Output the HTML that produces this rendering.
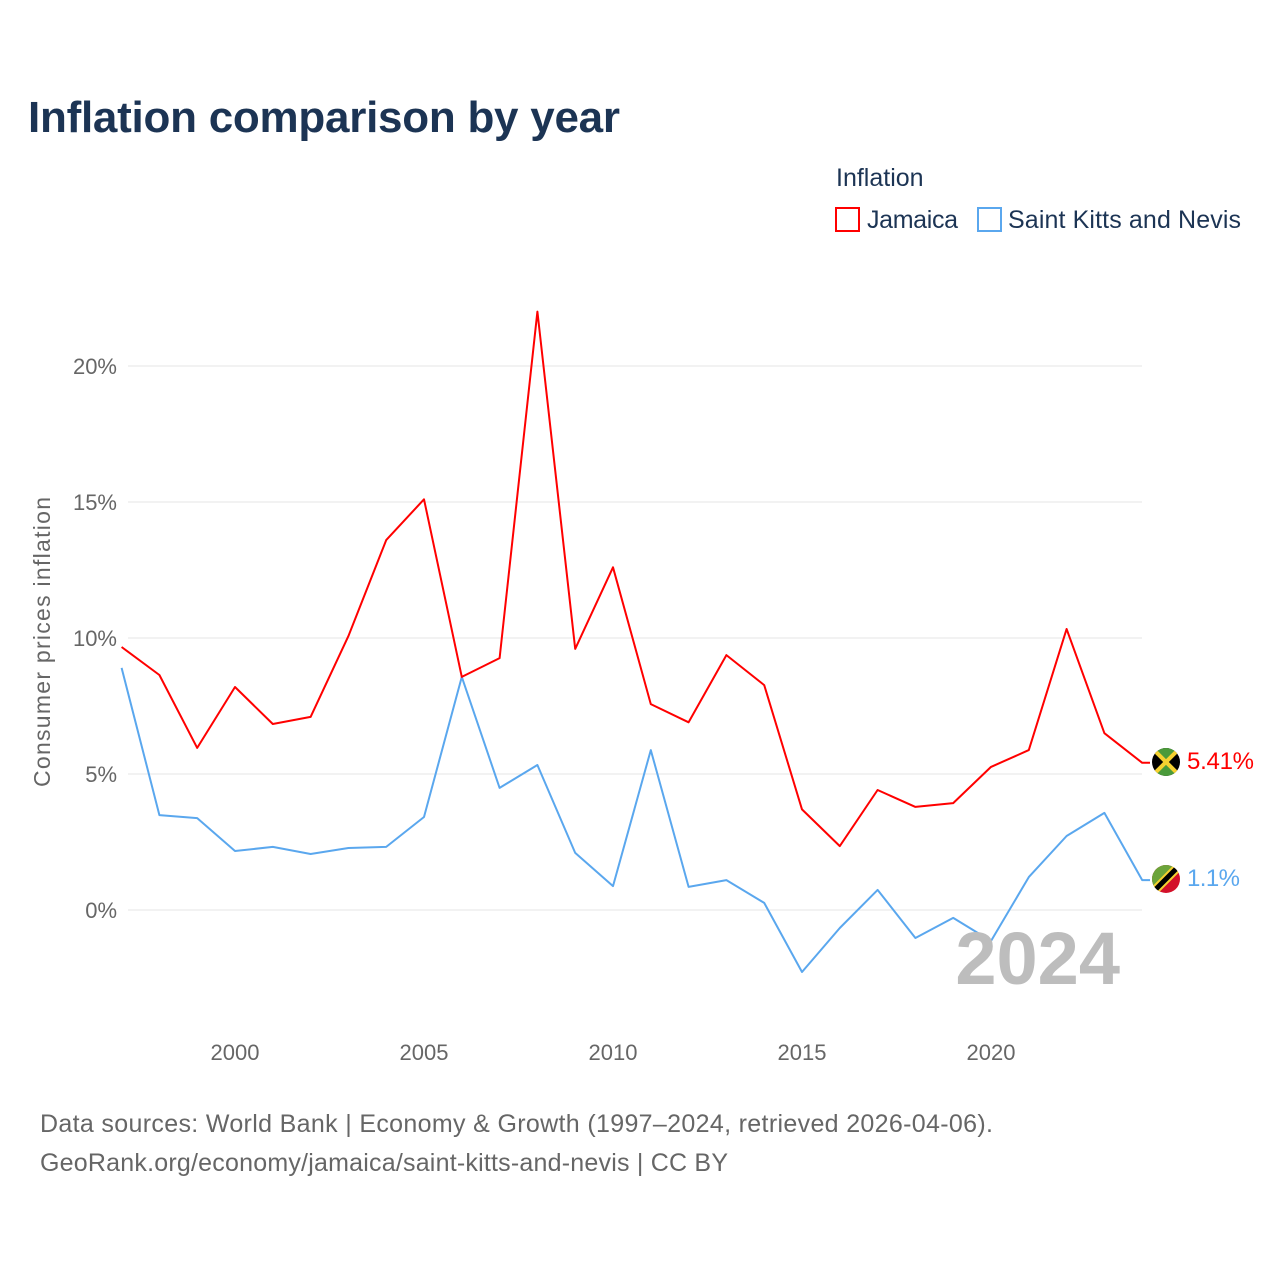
<!DOCTYPE html>
<html><head><meta charset="utf-8"><style>
body{margin:0;background:#fff;font-family:"Liberation Sans",sans-serif;}
svg text{font-family:"Liberation Sans",sans-serif;}
</style></head><body>
<svg id="c" width="1280" height="1280" viewBox="0 0 1280 1280">
<defs>
<clipPath id="cj"><circle cx="1166" cy="762" r="14"/></clipPath>
<clipPath id="ck"><circle cx="1166" cy="879" r="14"/></clipPath>
</defs>
<text x="28" y="132" font-size="44" font-weight="bold" fill="#1c3454" textLength="592">Inflation comparison by year</text>
<text x="836" y="186" font-size="25" fill="#1c3454">Inflation</text>
<g><rect x="836" y="208" width="23" height="23" fill="none" stroke="#f00" stroke-width="2"/><text x="867" y="228" font-size="25" fill="#1c3454" textLength="91">Jamaica</text></g>
<g><rect x="978" y="208" width="23" height="23" fill="none" stroke="#5aa7ee" stroke-width="2"/><text x="1008" y="228" font-size="25" fill="#1c3454" textLength="233">Saint Kitts and Nevis</text></g>
<text transform="translate(50,642) rotate(-90)" text-anchor="middle" font-size="23" fill="#666" textLength="290">Consumer prices inflation</text>
<g id="grid"></g><g id="marks"></g>
<text x="1120" y="984" text-anchor="end" font-size="74" font-weight="bold" fill="#bdbdbd">2024</text>
<g clip-path="url(#cj)">
<rect x="1150" y="746" width="32" height="32" fill="#000"/>
<polygon points="1150,746 1182,746 1166,762" fill="#4a9a3a"/><polygon points="1150,778 1182,778 1166,762" fill="#4a9a3a"/>
<line x1="1150" y1="746" x2="1182" y2="778" stroke="#f5d130" stroke-width="4"/><line x1="1182" y1="746" x2="1150" y2="778" stroke="#f5d130" stroke-width="4"/>
</g>
<g clip-path="url(#ck)">
<rect x="1150" y="863" width="32" height="32" fill="#d3102a"/>
<polygon points="1150,863 1182,863 1150,895" fill="#6ba43a"/>
<line x1="1180" y1="865" x2="1152" y2="893" stroke="#f5d130" stroke-width="9"/>
<line x1="1180" y1="865" x2="1152" y2="893" stroke="#000" stroke-width="5"/>
</g>
<text x="1187" y="769" font-size="24" fill="#f00" textLength="67">5.41%</text>
<text x="1187" y="886" font-size="24" fill="#5aa7ee" textLength="53">1.1%</text>
<text x="40" y="1132" font-size="25" fill="#666" textLength="953">Data sources: World Bank | Economy &amp; Growth (1997–2024, retrieved 2026-04-06).</text>
<text x="40" y="1171" font-size="25" fill="#666" textLength="688">GeoRank.org/economy/jamaica/saint-kitts-and-nevis | CC BY</text>
</svg>
<script>
const years=[1997,1998,1999,2000,2001,2002,2003,2004,2005,2006,2007,2008,2009,2010,2011,2012,2013,2014,2015,2016,2017,2018,2019,2020,2021,2022,2023,2024];
const jamaica=[9.67,8.64,5.96,8.2,6.84,7.1,10.07,13.6,15.1,8.57,9.26,22.0,9.6,12.6,7.57,6.9,9.37,8.27,3.7,2.35,4.41,3.79,3.93,5.26,5.88,10.33,6.5,5.41];
const skn=[8.9,3.49,3.38,2.17,2.32,2.06,2.28,2.32,3.42,8.57,4.49,5.33,2.1,0.88,5.88,0.85,1.1,0.26,-2.28,-0.66,0.74,-1.03,-0.29,-1.14,1.21,2.72,3.57,1.1];
const yTicks=[0,5,10,15,20];
const xTicks=[2000,2005,2010,2015,2020];
const X=y=>121.6+(y-1997)*37.8;
const Y=v=>910-v*27.2;
const NS="http://www.w3.org/2000/svg";
const grid=document.getElementById('grid'),marks=document.getElementById('marks');
function mk(tag,at,par){const e=document.createElementNS(NS,tag);for(const k in at)e.setAttribute(k,at[k]);par.appendChild(e);return e;}
yTicks.forEach(t=>{
 const l=mk('line',{x1:128,x2:1142,y1:Y(t),y2:Y(t),stroke:'#e6e6e6','stroke-width':1},grid);
 
 
 const tx=mk('text',{x:117,y:Y(t)+8,'text-anchor':'end','font-size':22,fill:'#666'},grid);
 tx.textContent=t+'%';
 
 
});
xTicks.forEach(t=>{
 const tx=mk('text',{x:X(t),y:1060,'text-anchor':'middle','font-size':22,fill:'#666'},grid);
 tx.textContent=t;
 
 
});
function series(vals,color,name){
 let d=vals.map((v,i)=>(i?'L':'M')+X(years[i]).toFixed(1)+','+Y(v).toFixed(1)).join(' ');
 d+=' L1150,'+Y(vals[vals.length-1]).toFixed(1);
 const p=mk('path',{d:d,fill:'none',stroke:color,'stroke-width':2,'stroke-linejoin':'round'},marks);
 
 
}
series(skn,'#5aa7ee','line-saint-kitts-and-nevis');
series(jamaica,'#f00','line-jamaica');
</script>
</body></html>
